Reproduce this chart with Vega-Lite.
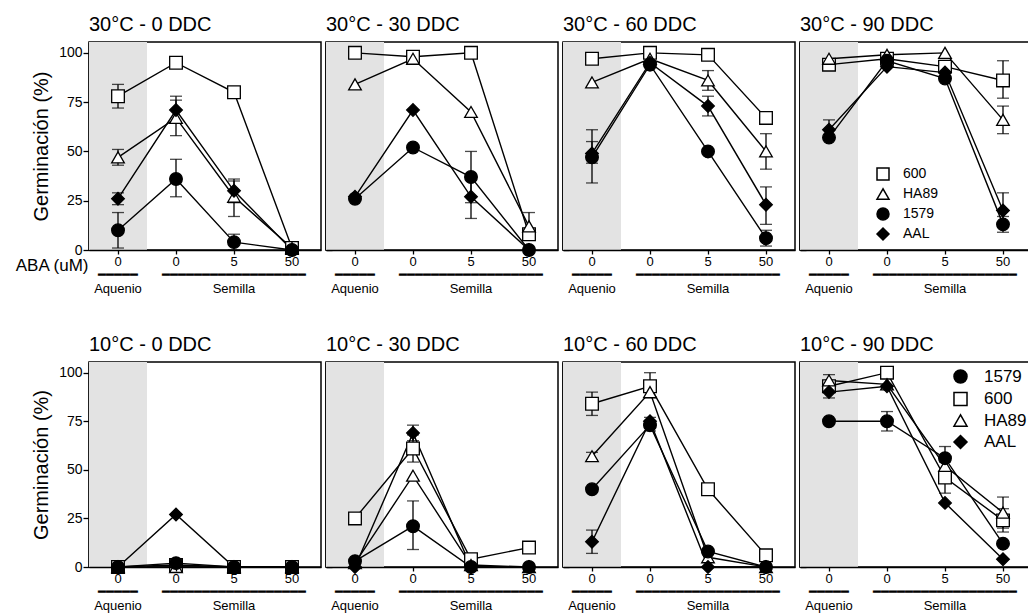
{
"$schema": "https://vega.github.io/schema/vega-lite/v6.json",
"padding": {"left": 13, "top": 14, "right": 0, "bottom": 0},
"datasets": {
"p1": [
{"s":"600","c":"a","v":78,"lo":72,"hi":84},{"s":"600","c":"b","v":95},{"s":"600","c":"c","v":80},{"s":"600","c":"d","v":1},
{"s":"HA89","c":"a","v":47,"lo":43,"hi":51},{"s":"HA89","c":"b","v":67,"lo":58,"hi":76},{"s":"HA89","c":"c","v":27,"lo":17,"hi":35},{"s":"HA89","c":"d","v":1},
{"s":"1579","c":"a","v":10,"lo":1,"hi":19},{"s":"1579","c":"b","v":36,"lo":27,"hi":46},{"s":"1579","c":"c","v":4,"lo":0,"hi":8},{"s":"1579","c":"d","v":0},
{"s":"AAL","c":"a","v":26,"lo":23,"hi":29},{"s":"AAL","c":"b","v":71,"lo":65,"hi":78},{"s":"AAL","c":"c","v":30,"lo":24,"hi":36},{"s":"AAL","c":"d","v":0}
],
"p2": [
{"s":"600","c":"a","v":100},{"s":"600","c":"b","v":98},{"s":"600","c":"c","v":100},{"s":"600","c":"d","v":8},
{"s":"HA89","c":"a","v":84},{"s":"HA89","c":"b","v":97},{"s":"HA89","c":"c","v":70},{"s":"HA89","c":"d","v":12,"lo":6,"hi":19},
{"s":"1579","c":"a","v":26},{"s":"1579","c":"b","v":52},{"s":"1579","c":"c","v":37,"lo":24,"hi":50},{"s":"1579","c":"d","v":0},
{"s":"AAL","c":"a","v":27},{"s":"AAL","c":"b","v":71},{"s":"AAL","c":"c","v":27,"lo":16,"hi":38},{"s":"AAL","c":"d","v":0}
],
"p3": [
{"s":"600","c":"a","v":97},{"s":"600","c":"b","v":100},{"s":"600","c":"c","v":99},{"s":"600","c":"d","v":67},
{"s":"HA89","c":"a","v":85},{"s":"HA89","c":"b","v":97},{"s":"HA89","c":"c","v":86,"lo":81,"hi":91},{"s":"HA89","c":"d","v":50,"lo":41,"hi":59},
{"s":"1579","c":"a","v":47,"lo":34,"hi":61},{"s":"1579","c":"b","v":94},{"s":"1579","c":"c","v":50},{"s":"1579","c":"d","v":6,"lo":2,"hi":10},
{"s":"AAL","c":"a","v":49,"lo":44,"hi":55},{"s":"AAL","c":"b","v":95},{"s":"AAL","c":"c","v":73,"lo":68,"hi":78},{"s":"AAL","c":"d","v":23,"lo":13,"hi":32}
],
"p4": [
{"s":"600","c":"a","v":94},{"s":"600","c":"b","v":97},{"s":"600","c":"c","v":93},{"s":"600","c":"d","v":86,"lo":77,"hi":96},
{"s":"HA89","c":"a","v":97},{"s":"HA89","c":"b","v":99},{"s":"HA89","c":"c","v":100},{"s":"HA89","c":"d","v":66,"lo":59,"hi":73},
{"s":"1579","c":"a","v":57},{"s":"1579","c":"b","v":96},{"s":"1579","c":"c","v":87},{"s":"1579","c":"d","v":13,"lo":9,"hi":17},
{"s":"AAL","c":"a","v":61,"lo":57,"hi":66},{"s":"AAL","c":"b","v":93},{"s":"AAL","c":"c","v":90},{"s":"AAL","c":"d","v":20,"lo":12,"hi":29}
],
"p5": [
{"s":"600","c":"a","v":0},{"s":"600","c":"b","v":1,"lo":0,"hi":4},{"s":"600","c":"c","v":0},{"s":"600","c":"d","v":0},
{"s":"HA89","c":"a","v":0},{"s":"HA89","c":"b","v":0},{"s":"HA89","c":"c","v":0},{"s":"HA89","c":"d","v":0},
{"s":"1579","c":"a","v":0},{"s":"1579","c":"b","v":2},{"s":"1579","c":"c","v":0},{"s":"1579","c":"d","v":0},
{"s":"AAL","c":"a","v":0},{"s":"AAL","c":"b","v":27},{"s":"AAL","c":"c","v":0},{"s":"AAL","c":"d","v":0}
],
"p6": [
{"s":"600","c":"a","v":25},{"s":"600","c":"b","v":61,"lo":54,"hi":68},{"s":"600","c":"c","v":4},{"s":"600","c":"d","v":10},
{"s":"HA89","c":"a","v":2},{"s":"HA89","c":"b","v":47},{"s":"HA89","c":"c","v":1},{"s":"HA89","c":"d","v":0},
{"s":"1579","c":"a","v":3},{"s":"1579","c":"b","v":21,"lo":9,"hi":34},{"s":"1579","c":"c","v":0},{"s":"1579","c":"d","v":0},
{"s":"AAL","c":"a","v":0},{"s":"AAL","c":"b","v":69,"lo":65,"hi":73},{"s":"AAL","c":"c","v":0},{"s":"AAL","c":"d","v":0}
],
"p7": [
{"s":"600","c":"a","v":84,"lo":78,"hi":90},{"s":"600","c":"b","v":93,"lo":87,"hi":100},{"s":"600","c":"c","v":40},{"s":"600","c":"d","v":6},
{"s":"HA89","c":"a","v":57,"lo":55,"hi":59},{"s":"HA89","c":"b","v":90},{"s":"HA89","c":"c","v":5},{"s":"HA89","c":"d","v":0},
{"s":"1579","c":"a","v":40},{"s":"1579","c":"b","v":73,"lo":70,"hi":77},{"s":"1579","c":"c","v":8},{"s":"1579","c":"d","v":0},
{"s":"AAL","c":"a","v":13,"lo":7,"hi":19},{"s":"AAL","c":"b","v":75},{"s":"AAL","c":"c","v":0},{"s":"AAL","c":"d","v":0}
],
"p8": [
{"s":"600","c":"a","v":93,"lo":87,"hi":99},{"s":"600","c":"b","v":100},{"s":"600","c":"c","v":46,"lo":38,"hi":54},{"s":"600","c":"d","v":24,"lo":18,"hi":30},
{"s":"HA89","c":"a","v":96},{"s":"HA89","c":"b","v":94},{"s":"HA89","c":"c","v":52},{"s":"HA89","c":"d","v":28,"lo":20,"hi":36},
{"s":"1579","c":"a","v":75},{"s":"1579","c":"b","v":75,"lo":70,"hi":80},{"s":"1579","c":"c","v":56,"lo":50,"hi":62},{"s":"1579","c":"d","v":12},
{"s":"AAL","c":"a","v":90},{"s":"AAL","c":"b","v":93},{"s":"AAL","c":"c","v":33},{"s":"AAL","c":"d","v":4}
]
},
"spacing": 38,
"resolve": {"scale": {"x":"independent","y":"independent","shape":"independent","fill":"independent"}, "legend": {"shape":"independent","fill":"independent"}},
"vconcat": [
{"spacing": 2,
 "resolve": {"scale": {"x":"independent","y":"independent","shape":"independent","fill":"independent"}, "legend": {"shape":"independent","fill":"independent"}},
 "hconcat": [
 {"data":{"name":"p1"},"width":232,"height":208,"title":"30°C - 0 DDC",
  "encoding":{"x":{"field":"c","type":"nominal","scale":{"type":"band","domain":["a","b","c","d"],"paddingInner":0,"paddingOuter":0},"axis":{"title":"ABA (uM)","titleX":-1,"titleY":20,"titleAlign":"right","titleBaseline":"alphabetic","titleFontSize":17,"labelExpr":"datum.value === 'a' ? ['0','━━━━━','Aquenio'] : datum.value === 'b' ? '0' : datum.value === 'c' ? ['5','━━━━━━━━━━━━━━━━━━\u00a0\u00a0\u00a0\u00a0\u00a0','Semilla\u00a0\u00a0\u00a0\u00a0'] : '50'"}}},
  "layer":[
   {"data":{"values":[{"c":"a"}]},"mark":{"type":"rect","color":"#e3e3e3"}},
   {"mark":{"type":"line","color":"black","strokeWidth":1.4},"encoding":{"y":{"field":"v","type":"quantitative","scale":{"domain":[0,105.5],"nice":false},"axis":{"title":"Germinación (%)","values":[0,25,50,75,100],"titleFontSize":20,"labelFontSize":14,"tickSize":6,"labelPadding":1,"titlePadding":7,"domainWidth":2}},"detail":{"field":"s","type":"nominal"}}},
   {"transform":[{"filter":"isValid(datum.lo)"}],"mark":{"type":"errorbar","color":"black","thickness":1.3,"ticks":{"size":12}},"encoding":{"y":{"field":"lo","type":"quantitative","scale":{"domain":[0,105.5],"nice":false},"axis":{"title":"Germinación (%)","values":[0,25,50,75,100],"titleFontSize":20,"labelFontSize":14,"tickSize":6,"labelPadding":1,"titlePadding":7,"domainWidth":2}},"y2":{"field":"hi"}}},
   {"mark":{"type":"point","filled":true,"size":160,"opacity":1,"stroke":"black","strokeWidth":1.3},"encoding":{"y":{"field":"v","type":"quantitative","scale":{"domain":[0,105.5],"nice":false},"axis":{"title":"Germinación (%)","values":[0,25,50,75,100],"titleFontSize":20,"labelFontSize":14,"tickSize":6,"labelPadding":1,"titlePadding":7,"domainWidth":2}},"shape":{"field":"s","type":"nominal","scale":{"domain":["600","HA89","1579","AAL"],"range":["square","triangle-up","circle","diamond"]},"legend":null},"fill":{"field":"s","type":"nominal","scale":{"domain":["600","HA89","1579","AAL"],"range":["white","white","black","black"]},"legend":null}}}
  ]},
 {"data":{"name":"p2"},"width":232,"height":208,"title":"30°C - 30 DDC",
  "encoding":{"x":{"field":"c","type":"nominal","scale":{"type":"band","domain":["a","b","c","d"],"paddingInner":0,"paddingOuter":0},"axis":{"title":null,"labelExpr":"datum.value === 'a' ? ['0','━━━━━','Aquenio'] : datum.value === 'b' ? '0' : datum.value === 'c' ? ['5','━━━━━━━━━━━━━━━━━━\u00a0\u00a0\u00a0\u00a0\u00a0','Semilla\u00a0\u00a0\u00a0\u00a0'] : '50'"}}},
  "layer":[
   {"data":{"values":[{"c":"a"}]},"mark":{"type":"rect","color":"#e3e3e3"}},
   {"mark":{"type":"line","color":"black","strokeWidth":1.4},"encoding":{"y":{"field":"v","type":"quantitative","scale":{"domain":[0,105.5],"nice":false},"axis":{"title":null,"values":[0,25,50,75,100],"labels":false,"tickSize":-6,"domainWidth":2.5}},"detail":{"field":"s","type":"nominal"}}},
   {"transform":[{"filter":"isValid(datum.lo)"}],"mark":{"type":"errorbar","color":"black","thickness":1.3,"ticks":{"size":12}},"encoding":{"y":{"field":"lo","type":"quantitative","scale":{"domain":[0,105.5],"nice":false},"axis":{"title":null,"values":[0,25,50,75,100],"labels":false,"tickSize":-6,"domainWidth":2.5}},"y2":{"field":"hi"}}},
   {"mark":{"type":"point","filled":true,"size":160,"opacity":1,"stroke":"black","strokeWidth":1.3},"encoding":{"y":{"field":"v","type":"quantitative","scale":{"domain":[0,105.5],"nice":false},"axis":{"title":null,"values":[0,25,50,75,100],"labels":false,"tickSize":-6,"domainWidth":2.5}},"shape":{"field":"s","type":"nominal","scale":{"domain":["600","HA89","1579","AAL"],"range":["square","triangle-up","circle","diamond"]},"legend":null},"fill":{"field":"s","type":"nominal","scale":{"domain":["600","HA89","1579","AAL"],"range":["white","white","black","black"]},"legend":null}}}
  ]},
 {"data":{"name":"p3"},"width":232,"height":208,"title":"30°C - 60 DDC",
  "encoding":{"x":{"field":"c","type":"nominal","scale":{"type":"band","domain":["a","b","c","d"],"paddingInner":0,"paddingOuter":0},"axis":{"title":null,"labelExpr":"datum.value === 'a' ? ['0','━━━━━','Aquenio'] : datum.value === 'b' ? '0' : datum.value === 'c' ? ['5','━━━━━━━━━━━━━━━━━━\u00a0\u00a0\u00a0\u00a0\u00a0','Semilla\u00a0\u00a0\u00a0\u00a0'] : '50'"}}},
  "layer":[
   {"data":{"values":[{"c":"a"}]},"mark":{"type":"rect","color":"#e3e3e3"}},
   {"mark":{"type":"line","color":"black","strokeWidth":1.4},"encoding":{"y":{"field":"v","type":"quantitative","scale":{"domain":[0,105.5],"nice":false},"axis":{"title":null,"values":[0,25,50,75,100],"labels":false,"tickSize":-6,"domainWidth":2.5}},"detail":{"field":"s","type":"nominal"}}},
   {"transform":[{"filter":"isValid(datum.lo)"}],"mark":{"type":"errorbar","color":"black","thickness":1.3,"ticks":{"size":12}},"encoding":{"y":{"field":"lo","type":"quantitative","scale":{"domain":[0,105.5],"nice":false},"axis":{"title":null,"values":[0,25,50,75,100],"labels":false,"tickSize":-6,"domainWidth":2.5}},"y2":{"field":"hi"}}},
   {"mark":{"type":"point","filled":true,"size":160,"opacity":1,"stroke":"black","strokeWidth":1.3},"encoding":{"y":{"field":"v","type":"quantitative","scale":{"domain":[0,105.5],"nice":false},"axis":{"title":null,"values":[0,25,50,75,100],"labels":false,"tickSize":-6,"domainWidth":2.5}},"shape":{"field":"s","type":"nominal","scale":{"domain":["600","HA89","1579","AAL"],"range":["square","triangle-up","circle","diamond"]},"legend":null},"fill":{"field":"s","type":"nominal","scale":{"domain":["600","HA89","1579","AAL"],"range":["white","white","black","black"]},"legend":null}}}
  ]},
 {"data":{"name":"p4"},"width":232,"height":208,"title":"30°C - 90 DDC",
  "encoding":{"x":{"field":"c","type":"nominal","scale":{"type":"band","domain":["a","b","c","d"],"paddingInner":0,"paddingOuter":0},"axis":{"title":null,"labelExpr":"datum.value === 'a' ? ['0','━━━━━','Aquenio'] : datum.value === 'b' ? '0' : datum.value === 'c' ? ['5','━━━━━━━━━━━━━━━━━━\u00a0\u00a0\u00a0\u00a0\u00a0','Semilla\u00a0\u00a0\u00a0\u00a0'] : '50'"}}},
  "layer":[
   {"data":{"values":[{"c":"a"}]},"mark":{"type":"rect","color":"#e3e3e3"}},
   {"mark":{"type":"line","color":"black","strokeWidth":1.4},"encoding":{"y":{"field":"v","type":"quantitative","scale":{"domain":[0,105.5],"nice":false},"axis":{"title":null,"values":[0,25,50,75,100],"labels":false,"tickSize":-6,"domainWidth":2.5}},"detail":{"field":"s","type":"nominal"}}},
   {"transform":[{"filter":"isValid(datum.lo)"}],"mark":{"type":"errorbar","color":"black","thickness":1.3,"ticks":{"size":12}},"encoding":{"y":{"field":"lo","type":"quantitative","scale":{"domain":[0,105.5],"nice":false},"axis":{"title":null,"values":[0,25,50,75,100],"labels":false,"tickSize":-6,"domainWidth":2.5}},"y2":{"field":"hi"}}},
   {"mark":{"type":"point","filled":true,"size":160,"opacity":1,"stroke":"black","strokeWidth":1.3},"encoding":{"y":{"field":"v","type":"quantitative","scale":{"domain":[0,105.5],"nice":false},"axis":{"title":null,"values":[0,25,50,75,100],"labels":false,"tickSize":-6,"domainWidth":2.5}},"shape":{"field":"s","type":"nominal","scale":{"domain":["600","HA89","1579","AAL"],"range":["square","triangle-up","circle","diamond"]},"legend":{"title":null,"orient":"none","legendX":76,"legendY":125,"values":["600","HA89","1579","AAL"],"symbolSize":144,"labelFontSize":14,"labelOffset":13,"rowPadding":2,"padding":0,"encode":{"symbols":{"fill":{"value":{"expr":"datum.value === '600' || datum.value === 'HA89' ? 'white' : 'black'"}},"stroke":{"value":"black"},"strokeWidth":{"value":1.3},"opacity":{"value":1}}}}},"fill":{"field":"s","type":"nominal","scale":{"domain":["600","HA89","1579","AAL"],"range":["white","white","black","black"]},"legend":null}}}
  ]}
 ]},
{"spacing": 2,
 "resolve": {"scale": {"x":"independent","y":"independent","shape":"independent","fill":"independent"}, "legend": {"shape":"independent","fill":"independent"}},
 "hconcat": [
 {"data":{"name":"p5"},"width":232,"height":205,"title":"10°C - 0 DDC",
  "encoding":{"x":{"field":"c","type":"nominal","scale":{"type":"band","domain":["a","b","c","d"],"paddingInner":0,"paddingOuter":0},"axis":{"title":null,"labelExpr":"datum.value === 'a' ? ['0','━━━━━','Aquenio'] : datum.value === 'b' ? '0' : datum.value === 'c' ? ['5','━━━━━━━━━━━━━━━━━━\u00a0\u00a0\u00a0\u00a0\u00a0','Semilla\u00a0\u00a0\u00a0\u00a0'] : '50'"}}},
  "layer":[
   {"data":{"values":[{"c":"a"}]},"mark":{"type":"rect","color":"#e3e3e3"}},
   {"mark":{"type":"line","color":"black","strokeWidth":1.4},"encoding":{"y":{"field":"v","type":"quantitative","scale":{"domain":[0,105.5],"nice":false},"axis":{"title":"Germinación (%)","values":[0,25,50,75,100],"titleFontSize":20,"labelFontSize":14,"tickSize":6,"labelPadding":1,"titlePadding":7,"domainWidth":2}},"detail":{"field":"s","type":"nominal"}}},
   {"transform":[{"filter":"isValid(datum.lo)"}],"mark":{"type":"errorbar","color":"black","thickness":1.3,"ticks":{"size":12}},"encoding":{"y":{"field":"lo","type":"quantitative","scale":{"domain":[0,105.5],"nice":false},"axis":{"title":"Germinación (%)","values":[0,25,50,75,100],"titleFontSize":20,"labelFontSize":14,"tickSize":6,"labelPadding":1,"titlePadding":7,"domainWidth":2}},"y2":{"field":"hi"}}},
   {"mark":{"type":"point","filled":true,"size":160,"opacity":1,"stroke":"black","strokeWidth":1.3},"encoding":{"y":{"field":"v","type":"quantitative","scale":{"domain":[0,105.5],"nice":false},"axis":{"title":"Germinación (%)","values":[0,25,50,75,100],"titleFontSize":20,"labelFontSize":14,"tickSize":6,"labelPadding":1,"titlePadding":7,"domainWidth":2}},"shape":{"field":"s","type":"nominal","scale":{"domain":["600","HA89","1579","AAL"],"range":["square","triangle-up","circle","diamond"]},"legend":null},"fill":{"field":"s","type":"nominal","scale":{"domain":["600","HA89","1579","AAL"],"range":["white","white","black","black"]},"legend":null}}}
  ]},
 {"data":{"name":"p6"},"width":232,"height":205,"title":"10°C - 30 DDC",
  "encoding":{"x":{"field":"c","type":"nominal","scale":{"type":"band","domain":["a","b","c","d"],"paddingInner":0,"paddingOuter":0},"axis":{"title":null,"labelExpr":"datum.value === 'a' ? ['0','━━━━━','Aquenio'] : datum.value === 'b' ? '0' : datum.value === 'c' ? ['5','━━━━━━━━━━━━━━━━━━\u00a0\u00a0\u00a0\u00a0\u00a0','Semilla\u00a0\u00a0\u00a0\u00a0'] : '50'"}}},
  "layer":[
   {"data":{"values":[{"c":"a"}]},"mark":{"type":"rect","color":"#e3e3e3"}},
   {"mark":{"type":"line","color":"black","strokeWidth":1.4},"encoding":{"y":{"field":"v","type":"quantitative","scale":{"domain":[0,105.5],"nice":false},"axis":{"title":null,"values":[0,25,50,75,100],"labels":false,"tickSize":-6,"domainWidth":2.5}},"detail":{"field":"s","type":"nominal"}}},
   {"transform":[{"filter":"isValid(datum.lo)"}],"mark":{"type":"errorbar","color":"black","thickness":1.3,"ticks":{"size":12}},"encoding":{"y":{"field":"lo","type":"quantitative","scale":{"domain":[0,105.5],"nice":false},"axis":{"title":null,"values":[0,25,50,75,100],"labels":false,"tickSize":-6,"domainWidth":2.5}},"y2":{"field":"hi"}}},
   {"mark":{"type":"point","filled":true,"size":160,"opacity":1,"stroke":"black","strokeWidth":1.3},"encoding":{"y":{"field":"v","type":"quantitative","scale":{"domain":[0,105.5],"nice":false},"axis":{"title":null,"values":[0,25,50,75,100],"labels":false,"tickSize":-6,"domainWidth":2.5}},"shape":{"field":"s","type":"nominal","scale":{"domain":["600","HA89","1579","AAL"],"range":["square","triangle-up","circle","diamond"]},"legend":null},"fill":{"field":"s","type":"nominal","scale":{"domain":["600","HA89","1579","AAL"],"range":["white","white","black","black"]},"legend":null}}}
  ]},
 {"data":{"name":"p7"},"width":232,"height":205,"title":"10°C - 60 DDC",
  "encoding":{"x":{"field":"c","type":"nominal","scale":{"type":"band","domain":["a","b","c","d"],"paddingInner":0,"paddingOuter":0},"axis":{"title":null,"labelExpr":"datum.value === 'a' ? ['0','━━━━━','Aquenio'] : datum.value === 'b' ? '0' : datum.value === 'c' ? ['5','━━━━━━━━━━━━━━━━━━\u00a0\u00a0\u00a0\u00a0\u00a0','Semilla\u00a0\u00a0\u00a0\u00a0'] : '50'"}}},
  "layer":[
   {"data":{"values":[{"c":"a"}]},"mark":{"type":"rect","color":"#e3e3e3"}},
   {"mark":{"type":"line","color":"black","strokeWidth":1.4},"encoding":{"y":{"field":"v","type":"quantitative","scale":{"domain":[0,105.5],"nice":false},"axis":{"title":null,"values":[0,25,50,75,100],"labels":false,"tickSize":-6,"domainWidth":2.5}},"detail":{"field":"s","type":"nominal"}}},
   {"transform":[{"filter":"isValid(datum.lo)"}],"mark":{"type":"errorbar","color":"black","thickness":1.3,"ticks":{"size":12}},"encoding":{"y":{"field":"lo","type":"quantitative","scale":{"domain":[0,105.5],"nice":false},"axis":{"title":null,"values":[0,25,50,75,100],"labels":false,"tickSize":-6,"domainWidth":2.5}},"y2":{"field":"hi"}}},
   {"mark":{"type":"point","filled":true,"size":160,"opacity":1,"stroke":"black","strokeWidth":1.3},"encoding":{"y":{"field":"v","type":"quantitative","scale":{"domain":[0,105.5],"nice":false},"axis":{"title":null,"values":[0,25,50,75,100],"labels":false,"tickSize":-6,"domainWidth":2.5}},"shape":{"field":"s","type":"nominal","scale":{"domain":["600","HA89","1579","AAL"],"range":["square","triangle-up","circle","diamond"]},"legend":null},"fill":{"field":"s","type":"nominal","scale":{"domain":["600","HA89","1579","AAL"],"range":["white","white","black","black"]},"legend":null}}}
  ]},
 {"data":{"name":"p8"},"width":232,"height":205,"title":"10°C  - 90 DDC",
  "encoding":{"x":{"field":"c","type":"nominal","scale":{"type":"band","domain":["a","b","c","d"],"paddingInner":0,"paddingOuter":0},"axis":{"title":null,"labelExpr":"datum.value === 'a' ? ['0','━━━━━','Aquenio'] : datum.value === 'b' ? '0' : datum.value === 'c' ? ['5','━━━━━━━━━━━━━━━━━━\u00a0\u00a0\u00a0\u00a0\u00a0','Semilla\u00a0\u00a0\u00a0\u00a0'] : '50'"}}},
  "layer":[
   {"data":{"values":[{"c":"a"}]},"mark":{"type":"rect","color":"#e3e3e3"}},
   {"mark":{"type":"line","color":"black","strokeWidth":1.4},"encoding":{"y":{"field":"v","type":"quantitative","scale":{"domain":[0,105.5],"nice":false},"axis":{"title":null,"values":[0,25,50,75,100],"labels":false,"tickSize":-6,"domainWidth":2.5}},"detail":{"field":"s","type":"nominal"}}},
   {"transform":[{"filter":"isValid(datum.lo)"}],"mark":{"type":"errorbar","color":"black","thickness":1.3,"ticks":{"size":12}},"encoding":{"y":{"field":"lo","type":"quantitative","scale":{"domain":[0,105.5],"nice":false},"axis":{"title":null,"values":[0,25,50,75,100],"labels":false,"tickSize":-6,"domainWidth":2.5}},"y2":{"field":"hi"}}},
   {"mark":{"type":"point","filled":true,"size":160,"opacity":1,"stroke":"black","strokeWidth":1.3},"encoding":{"y":{"field":"v","type":"quantitative","scale":{"domain":[0,105.5],"nice":false},"axis":{"title":null,"values":[0,25,50,75,100],"labels":false,"tickSize":-6,"domainWidth":2.5}},"shape":{"field":"s","type":"nominal","scale":{"domain":["600","HA89","1579","AAL"],"range":["square","triangle-up","circle","diamond"]},"legend":{"title":null,"orient":"none","legendX":152,"legendY":6,"values":["1579","600","HA89","AAL"],"symbolSize":170,"labelFontSize":17,"labelOffset":15,"rowPadding":1.5,"padding":0,"encode":{"symbols":{"fill":{"value":{"expr":"datum.value === '600' || datum.value === 'HA89' ? 'white' : 'black'"}},"stroke":{"value":"black"},"strokeWidth":{"value":1.3},"opacity":{"value":1}}}}},"fill":{"field":"s","type":"nominal","scale":{"domain":["600","HA89","1579","AAL"],"range":["white","white","black","black"]},"legend":null}}}
  ]}
 ]}
],
"config": {
 "font": "Liberation Sans",
 "view": {"stroke": "black", "strokeWidth": 1.5},
 "axis": {"grid": false, "domainColor": "black", "tickColor": "black", "labelColor": "black", "titleColor": "black", "labelFont": "Liberation Sans", "titleFont": "Liberation Sans", "titleFontWeight": "normal", "tickWidth": 1.3},
 "axisX": {"labelAngle": 0, "labelFontSize": 13, "labelLineHeight": 13.5, "labelPadding": 1, "labelLimit": 0, "tickSize": 4, "domainWidth": 1.5},
 "title": {"anchor": "start", "frame": "group", "fontSize": 20, "fontWeight": "normal", "font": "Liberation Sans", "color": "black", "offset": 7},
 "legend": {"labelFont": "Liberation Sans", "labelColor": "black"}
}
}
